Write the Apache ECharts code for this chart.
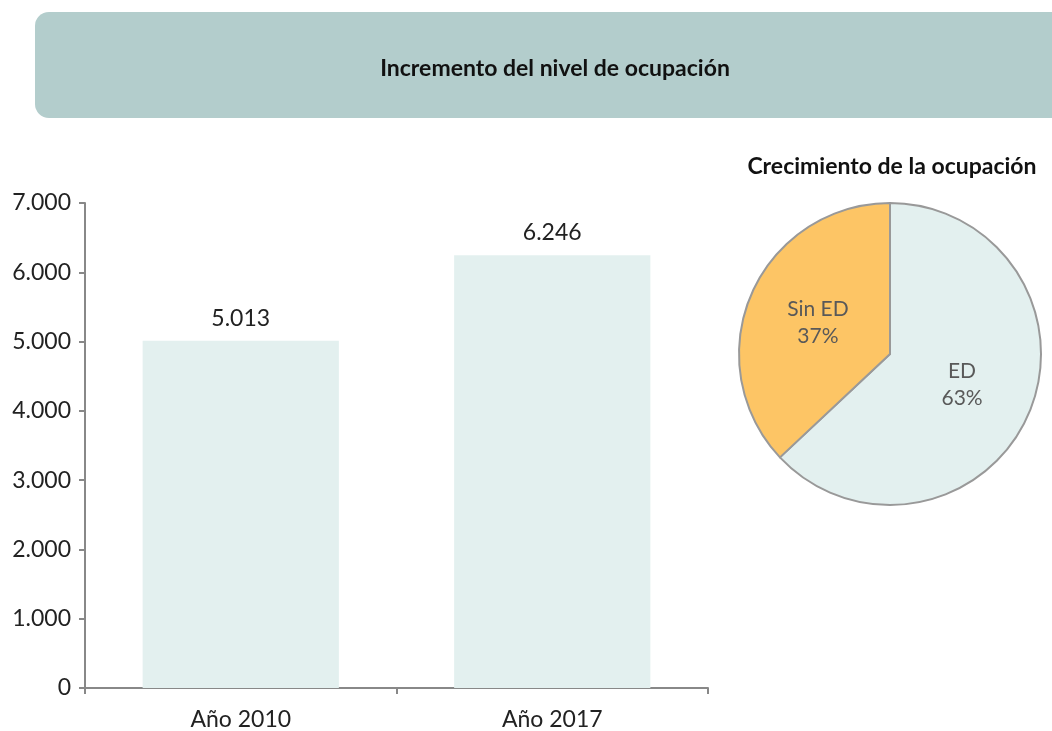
<!DOCTYPE html>
<html>
<head>
<meta charset="utf-8">
<title>Incremento del nivel de ocupación</title>
<script src="https://cdn.jsdelivr.net/npm/echarts@6/dist/echarts.min.js"></script>
<style>
    html, body { margin: 0; padding: 0; background: #fff; }
    #chart { width: 1052px; height: 731px; }
</style>
</head>
<body>
<div id="chart"></div>
<script>
    // datos
    var categories = ['Año 2010', 'Año 2017'];
    var ocupados = [5013, 6246];
    var pieNames = ['ED', 'Sin ED'];
    var pieShares = [63, 37];
    var pieColors = ['#e3f0ef', '#fdc565'];

    var font = 'Lato, "Open Sans", sans-serif';

    // separador de miles con punto
    function miles(v) {
        return String(v).replace(/\B(?=(\d{3})+(?!\d))/g, '.');
    }

    var myChart = echarts.init(document.getElementById('chart'));
    var option = {
        animation: false,
        textStyle: { fontFamily: font },
        graphic: [{
            type: 'rect',
            left: 35, top: 12,
            shape: { width: 1030, height: 106, r: 14 },
            style: { fill: '#b3cdcc' },
            z: 0
        }],
        title: [{
            text: 'Incremento del nivel de ocupación',
            left: 550, top: 52, textAlign: 'center',
            textStyle: { fontSize: 23, fontWeight: 'bold', color: '#111', fontFamily: font }
        }, {
            text: 'Crecimiento de la ocupación',
            left: 887, top: 150, textAlign: 'center',
            textStyle: { fontSize: 23, fontWeight: 'bold', color: '#111', fontFamily: font }
        }],
        grid: { left: 85, right: 344, top: 203, bottom: 43, containLabel: false },
        xAxis: {
            type: 'category',
            data: categories,
            axisLine: { lineStyle: { color: '#888', width: 2 } },
            axisTick: { show: true, length: 6, lineStyle: { color: '#888', width: 2 } },
            axisLabel: { fontSize: 23, color: '#222', margin: 20, fontFamily: font }
        },
        yAxis: {
            type: 'value',
            min: 0, max: 7000, interval: 1000,
            axisLine: { show: true, lineStyle: { color: '#888', width: 2 } },
            axisTick: { show: true, length: 6, lineStyle: { color: '#888', width: 2 } },
            splitLine: { show: false },
            axisLabel: { fontSize: 23, color: '#222', margin: 14, fontFamily: font, formatter: miles }
        },
        series: [{
            type: 'bar',
            data: ocupados,
            barWidth: '63%',
            itemStyle: { color: '#e3f0ef' },
            label: {
                show: true, position: 'top', distance: 11,
                fontSize: 23, color: '#222', fontFamily: font,
                formatter: function (p) { return miles(p.value); }
            }
        }, {
            type: 'pie',
            center: [890, 354],
            radius: 151,
            startAngle: 90,
            clockwise: true,
            data: pieNames.map(function (n, i) {
                return { name: n, value: pieShares[i], itemStyle: { color: pieColors[i] } };
            }),
            itemStyle: { borderColor: '#999', borderWidth: 2 },
            label: {
                show: true, position: 'inner',
                fontSize: 21, color: '#595959', lineHeight: 27, fontFamily: font,
                formatter: '{b}\n{c}%'
            },
            labelLine: { show: false }
        }]
    };
    myChart.setOption(option);
</script>
</body>
</html>
